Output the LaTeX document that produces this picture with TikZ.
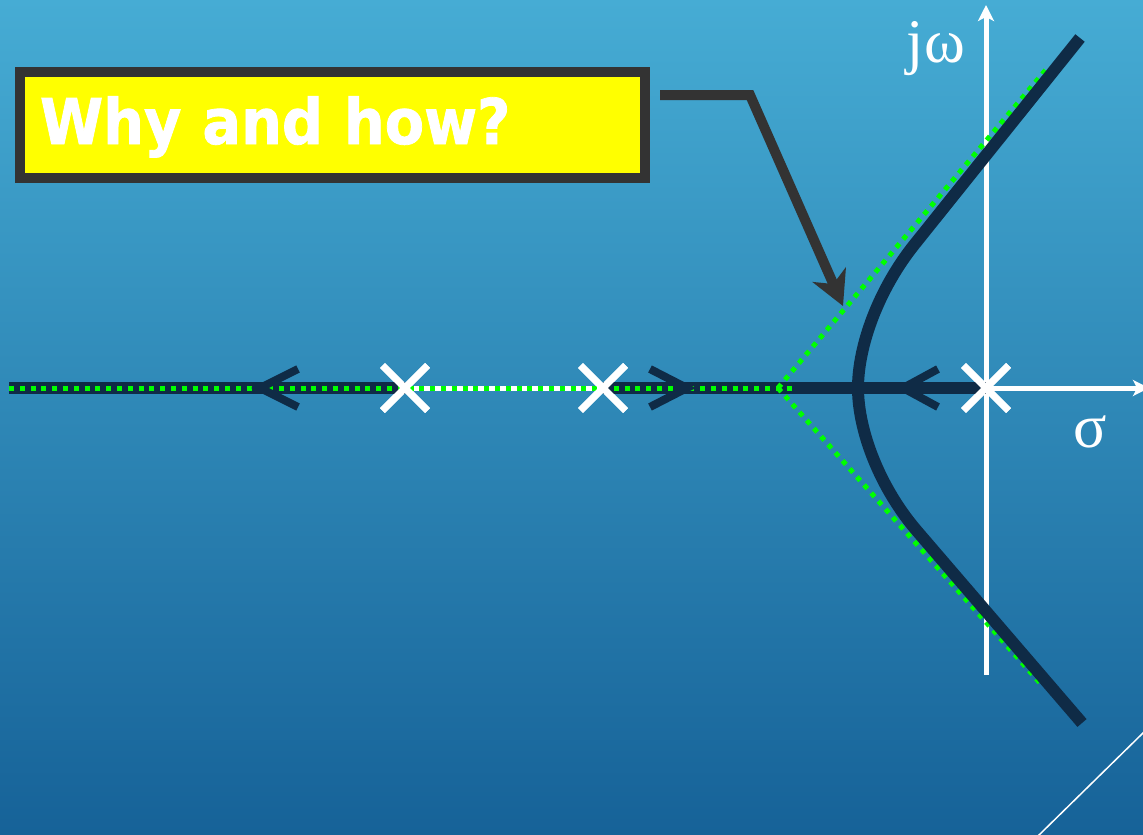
\documentclass[tikz,border=0pt]{standalone}
\usepackage{fontspec}
\setmainfont{Liberation Serif}
\newfontfamily\boxfont[FakeStretch=0.91,FakeBold=1.2]{DejaVu Sans}
\usetikzlibrary{arrows.meta,shapes.misc}
\definecolor{navy}{RGB}{15,43,70}
\definecolor{lime}{RGB}{0,255,0}
\definecolor{callgray}{RGB}{51,51,51}
\definecolor{bgtop}{RGB}{70,172,212}
\definecolor{bgbot}{RGB}{22,98,152}
\definecolor{boxyellow}{RGB}{255,255,0}
\tikzset{
  navyline/.style={draw=navy, line width=12pt},
  dotline/.style={draw=lime, line width=5pt, dash pattern=on 5pt off 5.8pt},
  whiteunder/.style={draw=white, line width=5pt},
  axisline/.style={draw=white, line width=5pt},
  locus/.style={draw=navy, line width=12pt},
  chev/.style={draw=navy, line width=8pt, line join=miter},
  pole/.style={cross out, draw=white, line width=7pt, minimum size=38pt, inner sep=0pt},
  callbox/.style={draw=callgray, fill=boxyellow, line width=10pt, text width=585pt, align=left,
    inner xsep=20pt, inner ysep=0pt, minimum height=106pt, text height=46pt, text depth=8pt,
    text=white, font=\boxfont\bfseries\fontsize{63}{70}\selectfont},
  callarrow/.style={draw=callgray, line width=10pt, line join=miter,
    -{Stealth[length=34pt,width=36pt,inset=10pt]}},
  axlabel/.style={text=white, font=\fontsize{62}{70}\selectfont, inner sep=0pt},
}
\begin{document}
\begin{tikzpicture}[x=1pt,y=-1pt]
\useasboundingbox (0,0) rectangle (1143,835);
\shade[top color=bgtop, bottom color=bgbot] (0,0) rectangle (1143,835);
% coordinates
\coordinate (far) at (9,388);
\coordinate (bp) at (778,388);
\coordinate (dotend) at (796,388);
\coordinate (asup) at (1049,66);
\coordinate (aslo) at (1040,683);
\coordinate (vbot) at (986,675);
\coordinate (vtop) at (986,5);
\coordinate (hend) at (1149,388);
\coordinate (c1) at (260,388);
\coordinate (c2) at (687,388);
\coordinate (c3) at (903,388);
\coordinate (cstart) at (660,95);
\coordinate (cbend) at (750,95);
\coordinate (ctip) at (843,306);
\coordinate (d1) at (1038,836);
\coordinate (d2) at (1144,732);
\coordinate (btop) at (1080,38);
\coordinate (bup) at (914,245);
\coordinate (vx) at (858,388);
\coordinate (blo) at (917,531);
\coordinate (bbot) at (1082,723);
% poles
\node[pole] (p1) at (405,388) {};
\node[pole] (p2) at (603,388) {};
\node[pole] (p3) at (986,388) {};
% axes
\draw[axisline, -{Stealth[length=16pt,width=16pt,inset=4pt]}] (vbot) -- (vtop);
\draw[axisline, -{Stealth[length=16pt,width=16pt,inset=4pt]}] (p3.center) -- (hend);
% real-axis locus
\draw[navyline] (far) -- (p1.center);
\draw[navyline] (p2.center) -- (p3.center);
\draw[whiteunder] (p1.center) -- (p2.center);
\draw[dotline] (far) -- (dotend);
% asymptotes
\draw[dotline] (bp) -- (asup);
\draw[dotline] (bp) -- (aslo);
% branches
\draw[locus] (btop) -- (bup) .. controls (879,289) and (858,345) .. (vx)
  .. controls (858,431) and (880,488) .. (blo) -- (bbot);
% direction chevrons
\draw[chev] (c1) ++(38,-19) -- (c1) -- ++(38,19);
\draw[chev] (c2) ++(-37,-19) -- (c2) -- ++(-37,19);
\draw[chev] (c3) ++(35,-19) -- (c3) -- ++(35,19);
% redraw poles on top
\node[pole] at (p1) {};
\node[pole] at (p2) {};
\node[pole] at (p3) {};
% labels
\node[axlabel, anchor=base] (jw) at (936,62) {jω};
\node[axlabel, anchor=base] (sg) at (1090,447) {σ};
% callout
\node[callbox] (why) at (332.5,125) {Why and how?};
\draw[callarrow] (cstart) -- (cbend) -- (ctip);
% corner line
\draw[white, line width=1.5pt] (d1) -- (d2);
\end{tikzpicture}
\end{document}
